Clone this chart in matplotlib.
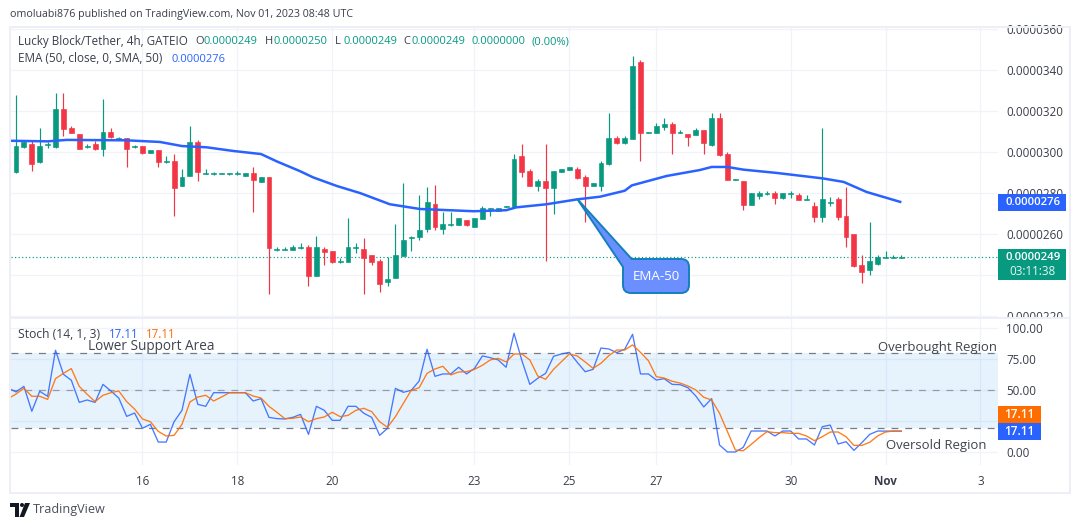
import matplotlib
matplotlib.use("Agg")
import matplotlib.pyplot as plt
from matplotlib.patches import Rectangle, PathPatch, Polygon
from matplotlib.path import Path
from matplotlib.transforms import Affine2D, Bbox

# prices are in units of 1e-7 USDT
opens = [290.2,302.4,303.9,295.1,303.4,302.4,321.0,311.7,308.8,302.6,303.9,301.5,309.8,306.5,306.8,302.4,302.9,299.5,301.0,295.1,
         295.6,283.4,288.3,304.9,289.4,289.3,289.4,289.4,289.4,288.3,289.8,285.4,287.8,252.4,252.4,252.2,253.3,253.7,239.5,252.7,
         251.7,246.5,246.3,253.3,252.7,249.8,246.8,236.6,238.5,249.3,258.1,258.5,262.4,274.6,262.4,264.4,264.4,266.8,263.4,267.3,
         272.2,271.2,273.3,273.2,298.1,290.7,283.4,285.9,282.4,290.2,291.2,291.7,287.8,283.4,283.4,294.1,306.8,304.4,306.4,343.9,
         309.3,309.3,312.2,313.7,309.3,308.8,308.3,310.7,303.4,316.6,299.0,286.3,285.9,274.2,278.5,279.7,280.0,277.6,279.7,279.0,
         276.8,273.7,268.3,275.3,277.1,268.8,260.0,244.9,242.4,245.4,248.5,248.5,248.5]
closes = [302.9,305.0,294.1,302.9,303.9,321.0,311.4,309.3,301.5,302.9,301.5,309.8,307.3,306.8,301.5,302.8,299.5,301.0,295.1,295.4,
          282.4,287.8,304.9,290.2,289.8,289.6,289.6,289.6,289.8,289.8,286.3,287.8,253.2,252.7,252.7,253.7,253.7,239.5,253.7,251.2,
          246.3,246.8,253.7,253.7,248.3,246.3,235.6,238.0,249.8,257.1,258.4,261.9,275.6,263.4,264.9,264.9,267.8,264.4,267.8,272.7,
          272.5,272.7,273.7,296.6,290.2,283.4,285.9,282.4,290.7,291.7,292.7,287.3,283.4,284.9,294.6,306.8,304.4,306.8,341.9,309.3,
          309.6,312.7,313.7,309.3,309.8,307.3,310.7,304.4,316.6,298.5,286.3,286.7,274.2,280.0,280.0,280.0,277.6,280.0,280.0,276.6,
          277.1,268.3,277.1,275.6,268.3,258.5,244.4,241.5,246.8,248.8,248.8,248.8,248.8]
highs = [327.8,305.9,305.9,311.7,304.9,328.8,328.8,312.7,308.8,303.9,305.4,325.9,311.7,307.5,306.8,303.2,302.9,301.0,301.0,298.1,
         299.0,291.7,312.7,305.9,291.7,290.1,289.6,289.6,290.7,289.8,292.7,287.8,287.8,253.7,253.5,254.6,255.6,254.6,259.0,253.7,
         251.7,248.3,267.8,255.6,258.0,249.8,247.8,248.8,264.9,284.9,259.0,279.0,282.9,283.9,270.7,270.7,267.8,266.8,267.8,273.7,
         272.7,272.7,273.7,299.0,303.9,291.7,286.8,303.9,290.7,291.7,292.7,292.7,288.8,284.9,295.6,319.0,307.8,307.8,346.8,344.9,
         309.6,314.1,316.6,314.6,310.7,308.8,311.7,310.7,319.0,319.0,300.0,286.7,285.9,280.0,281.0,281.0,281.0,280.0,281.0,280.0,
         279.0,275.6,311.7,278.0,278.0,282.9,260.0,249.8,265.9,249.8,251.7,249.8,249.8]
lows = [289.9,302.1,290.7,294.6,302.0,302.0,307.8,309.3,301.5,301.8,301.0,298.1,306.8,305.9,292.7,302.0,299.0,299.5,292.7,294.6,
        268.8,283.4,288.3,285.9,289.3,288.8,289.4,288.8,288.8,288.3,270.7,285.4,230.7,251.7,252.2,252.2,252.9,234.6,239.5,244.9,
        245.9,245.9,246.3,250.7,230.7,244.9,231.7,234.6,238.5,249.3,251.7,257.1,261.0,261.9,260.0,263.9,264.4,263.9,263.4,267.3,
        268.8,271.2,273.3,273.2,287.8,283.4,281.0,246.8,269.8,290.2,291.2,286.8,265.9,283.4,281.0,293.6,303.9,303.9,306.4,295.6,
        309.3,309.3,310.7,299.0,309.3,302.9,308.3,299.0,302.9,298.1,286.3,286.3,271.7,274.2,277.1,279.0,274.6,277.1,277.6,276.6,
        276.6,265.9,265.9,273.7,266.8,253.7,243.9,236.1,240.0,244.9,248.5,248.5,248.5]

ema_index = [-1,4,6.4,14,18.2,21,24.1,27.5,31,33,35.9,37.6,40.6,43.5,47.3,51.1,57.9,62,63.3,67.1,71,73.9,77,77.9,82.3,86.5,88,90,92,96.2,102.1,104.7,107.6,112]
ema_value = [305.5,305.2,305.9,305.7,304.9,302.9,302.3,300.5,299.0,295.4,290.7,287.6,283.4,280.0,274.5,272.2,271.1,271.6,273.0,274.5,276.9,278.2,281.1,283.7,288.3,291.2,292.7,292.7,291.4,289.8,287.1,285.4,280.5,275.5]

stoch_k = [51.9,48.7,53.2,33.1,49.2,45.2,82.3,62.9,58.1,40.3,42.2,40.3,54.8,49.5,43.8,29.0,31.7,19.4,22.6,8.3,8.3,24.7,33.9,62.9,38.7,37.1,
           48.1,48.1,48.1,48.1,48.1,41.4,43.3,28.2,27.2,26.9,28.2,30.6,14.5,37.1,33.9,25.8,25.8,37.1,37.1,31.5,28.2,13.7,19.4,51.6,48.4,50.0,
           57.5,83.1,61.3,63.2,63.2,68.6,63.2,67.7,77.7,76.3,74.5,68.6,96.0,73.9,54.8,59.7,63.7,77.4,79.3,80.6,72.6,65.0,66.9,84.1,83.3,80.4,
           83.1,95.2,63.2,63.2,58.3,59.4,54.8,54.6,52.1,45.4,36.6,43.3,5.9,0.3,0.3,4.0,17.2,17.2,17.2,13.2,17.2,17.2,10.8,10.8,5.9,20.7,22.0,
           6.7,8.6,1.6,7.8,14.5,17.2,17.11,17.11,17.11]
stoch_d = [43.3,47.0,51.6,45.2,45.2,42.7,59.4,63.7,67.5,53.2,46.8,40.9,46.0,48.1,49.5,40.9,34.9,26.9,24.7,16.9,13.2,13.7,22.6,40.6,44.6,46.0,
           41.4,44.6,48.1,48.1,48.1,45.4,43.8,37.1,32.3,27.2,27.4,28.5,24.7,27.2,28.5,32.3,28.8,29.8,33.9,35.5,32.8,24.7,20.2,28.8,39.5,50.0,
           52.1,63.7,67.2,69.4,62.4,64.8,65.0,66.9,70.2,74.5,75.8,72.9,79.3,79.3,74.5,61.6,58.9,66.9,73.1,79.3,77.7,72.9,67.7,71.8,78.0,82.5,
           82.5,86.6,80.6,73.9,61.0,59.9,57.3,55.9,53.5,50.3,44.4,42.2,31.5,16.7,1.9,1.3,6.4,11.8,16.7,15.9,15.9,15.3,15.3,13.2,9.4,12.6,16.4,
           16.4,12.6,5.6,5.6,8.1,13.2,16.4,17.2,17.11]

date_ticks = [16, 28, 40, 58, 70, 81, 98, 110, 122]
date_labels = ["16", "18", "20", "23", "25", "27", "30", "Nov", "3"]
price_ticks = [220, 240, 260, 280, 300, 320, 340, 360]
price_tick_labels = ["0.0000220", "", "0.0000260", "0.0000280", "0.0000300", "0.0000320", "0.0000340", "0.0000360"]
stoch_ticks = [0, 25, 50, 75, 100]
stoch_tick_labels = ["0.00", "", "50.00", "75.00", "100.00"]
last_price = 248.7

FONT = "Open Sans"
GREEN, RED, BLUE, ORANGE = "#089981", "#f23645", "#2962ff", "#ff6d00"
GRID, BAND, TXT = "#f0f3fa", "#eeeff6", "#3a3e4a"
plt.rcParams["font.family"] = FONT
W, H = 1080, 528
fig = plt.figure(figsize=(W / 100, H / 100), dpi=100, facecolor="white")
tr = Affine2D().scale(1, -1).translate(0, H)

def pane(x0, y0, x1, y1):
    return fig.add_axes([x0 / W, 1 - y1 / H, (x1 - x0) / W, (y1 - y0) / H])

def label(x, y, s, size=8.0, color=TXT, ha="left", va="center", **kw):
    return fig.text(x, y, s, transform=tr, fontsize=size, color=color, ha=ha, va=va, zorder=8, **kw)

def box(x0, y0, x1, y1, color, z=6):
    fig.add_artist(Rectangle((x0, y0), x1 - x0, y1 - y0, transform=tr, facecolor=color, edgecolor="none", zorder=z))

xlim = ((11 - 16) / 7.905 , (998 - 16) / 7.905)

# ---- price pane
ax = pane(11, 28, 998, 317)
ax.set_xlim(*xlim)
ax.set_ylim(219.5, 360.5)
for s in ax.spines.values():
    s.set_visible(False)
ax.set_axisbelow(True)
ax.grid(True, color=GRID, lw=0.9)
ax.set_xticks(date_ticks)
ax.set_xticklabels([])
ax.set_yticks(price_ticks)
ax.yaxis.tick_right()
ax.set_yticklabels(price_tick_labels, fontsize=8.4, color=TXT)
ax.tick_params(length=0, pad=5.8)
clip = Bbox([[998, H - 317], [1070, H - 24]])
for t in ax.get_yticklabels():
    t.set_clip_box(clip)
    t.set_clip_on(True)

idx = list(range(len(opens)))
cols = [GREEN if c >= o else RED for o, c in zip(opens, closes)]
ax.vlines(idx, lows, highs, colors=cols, lw=0.85, zorder=3)
ax.bar(idx, [c - o for o, c in zip(opens, closes)], bottom=opens, width=0.62,
       color=cols, edgecolor=cols, linewidth=0.45, zorder=4)
ax.axhline(last_price, color=GREEN, lw=0.85, ls=(0, (1, 2)), zorder=2)
ax.plot(ema_index, ema_value, color=BLUE, lw=1.8, zorder=5, solid_capstyle="butt")

# ---- stochastic pane
ax2 = pane(11, 319, 998, 465)
ax2.set_xlim(*xlim)
ax2.set_ylim(-10.2, 107.5)
for s in ax2.spines.values():
    s.set_visible(False)
ax2.set_axisbelow(True)
ax2.grid(True, color=GRID, lw=0.9)
ax2.set_xticks(date_ticks)
ax2.set_xticklabels(date_labels, fontsize=8.4, color=TXT)
ax2.get_xticklabels()[7].set_fontweight("bold")
ax2.set_yticks(stoch_ticks)
ax2.yaxis.tick_right()
ax2.set_yticklabels(stoch_tick_labels, fontsize=8.4, color=TXT)
ax2.tick_params(length=0, pad=5.8)
ax2.tick_params(axis="x", pad=7)
ax2.axhspan(20, 80, facecolor="#2196f3", alpha=0.11, lw=0, zorder=1)
ax2.axhline(80, color="#787b86", lw=0.9, ls=(0, (5.5, 5.5)), zorder=2)
ax2.axhline(50, color="#787b86", lw=0.9, ls=(0, (5.5, 5.5)), alpha=0.7, zorder=2)
ax2.axhline(20, color="#787b86", lw=0.9, ls=(0, (5.5, 5.5)), zorder=2)
sx = list(range(-1, len(stoch_k) - 1))
ax2.plot(sx, stoch_k, color=BLUE, lw=0.95, alpha=0.85, zorder=4)
ax2.plot(sx, stoch_d, color=ORANGE, lw=0.95, alpha=0.9, zorder=5)

# ---- frame bands
box(9, 26, 1071, 28, BAND, 3)
box(9, 317, 1071, 319, BAND, 3)
box(9, 492, 1071, 494, BAND, 3)
box(9, 26, 11, 494, BAND, 3)
box(1069, 26, 1071, 494, BAND, 3)

# ---- header and legends
label(10, 14, "omoluabi876 published on TradingView.com, Nov 01, 2023 08:48 UTC", size=7.63)
label(18, 42, "Lucky Block/Tether, 4h, GATEIO", size=8.4)
for x, s, c in [(195, "O", TXT), (204, "0.0000249", GREEN), (265, "H", TXT), (273, "0.0000250", GREEN),
                (335, "L", TXT), (343, "0.0000249", GREEN), (403, "C", TXT), (411, "0.0000249", GREEN),
                (472, "0.0000000", GREEN), (532, "(0.00%)", GREEN)]:
    label(x, 42, s, size=8.05, color=c)
label(18, 59, "EMA (50, close, 0, SMA, 50)", size=8.5)
label(172, 59, "0.0000276", size=8.05, color=BLUE)
label(18, 334, "Stoch (14, 1, 3)", size=8.7)
label(109, 334, "17.11", size=8.3, color=BLUE)
label(146, 334, "17.11", size=8.3, color=ORANGE)
label(88, 347, "Lower Support Area", size=9.8, color="#40444f")
label(997, 347, "Overbought Region", size=9.45, color="#40444f", ha="right")
label(987, 445, "Oversold Region", size=9.45, color="#40444f", ha="right")

# ---- price tags
box(998, 194, 1066, 211, BLUE)
label(1033, 202.5, "0.0000276", size=8.2, color="white", ha="center", fontweight="semibold")
box(998, 249, 1066, 280, GREEN)
label(1033, 257.5, "0.0000249", size=8.2, color="white", ha="center", fontweight="semibold")
label(1033, 271.5, "03:11:38", size=8.4, color="white", ha="center", alpha=0.9)
box(998, 406, 1041, 423, ORANGE)
label(1019.5, 414.5, "17.11", size=8.6, color="white", ha="center", fontweight="semibold")
box(998, 423, 1041, 440, BLUE)
label(1019.5, 431.5, "17.11", size=8.6, color="white", ha="center", fontweight="semibold")

# ---- EMA-50 callout
verts = [(577.3, 199), (631.7, 259), (681, 259), (689, 259), (689, 267), (689, 285), (689, 293), (681, 293),
         (631, 293), (623, 293), (623, 285), (623, 267), (577.3, 199)]
codes = [Path.MOVETO, Path.LINETO, Path.LINETO, Path.CURVE3, Path.CURVE3, Path.LINETO, Path.CURVE3, Path.CURVE3,
         Path.LINETO, Path.CURVE3, Path.CURVE3, Path.LINETO, Path.CLOSEPOLY]
fig.add_artist(PathPatch(Path(verts, codes), transform=tr, facecolor="#6b8fff", edgecolor="#1380bd", lw=1.4, zorder=7))
label(656, 276, "EMA-50", size=9.6, color="white", ha="center")

# ---- TradingView mark
fig.add_artist(Polygon([(10, 503), (19, 503), (19, 517), (15, 517), (15, 507), (10, 507)], closed=True, transform=tr,
                       facecolor="#131722", edgecolor="none", zorder=6))
fig.add_artist(Polygon([(25, 503), (30, 503), (24, 517), (19.5, 517)], closed=True, transform=tr,
                       facecolor="#131722", edgecolor="none", zorder=6))
fig.add_artist(plt.Circle((22, 505), 2, transform=tr, facecolor="#131722", edgecolor="none", zorder=6))
label(33, 510, "TradingView", size=9.1, color="#4a4e59")

fig.savefig("out.png", dpi=100, facecolor="white")
